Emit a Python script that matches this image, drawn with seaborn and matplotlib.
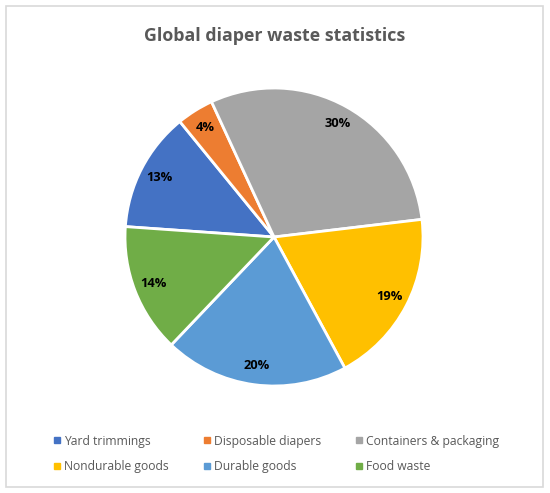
import matplotlib
matplotlib.use("Agg")
import matplotlib.pyplot as plt
from matplotlib.patches import Rectangle
from matplotlib.lines import Line2D
import seaborn as sns

# data
categories = ["Yard trimmings", "Disposable diapers", "Containers & packaging",
              "Nondurable goods", "Durable goods", "Food waste"]
shares = [13, 4, 30, 19, 20, 14]
colors = ["#4472C4", "#ED7D31", "#A5A5A5", "#FFC000", "#5B9BD5", "#70AD47"]

sns.set_theme(style="white")
plt.rcParams["font.family"] = ["Open Sans", "DejaVu Sans"]

fig = plt.figure(figsize=(5.5, 4.93), dpi=100)
fig.patch.set_facecolor("white")

# chart border
fig.add_artist(Rectangle((6 / 550, 6 / 493), 537 / 550, 481 / 493,
                         transform=fig.transFigure, fill=False,
                         edgecolor="#D9D9D9", linewidth=1.2))

ax = fig.add_axes([0.2273, 0.217, 0.5418, 0.6045])
wedges, texts, autotexts = ax.pie(
    shares, colors=colors, startangle=176, counterclock=False,
    autopct="%1.0f%%", pctdistance=0.87,
    wedgeprops=dict(edgecolor="white", linewidth=2),
    textprops=dict(fontsize=9.3, fontweight="bold", color="black"))
ax.set_aspect("equal")
ax.set_xlim(-1, 1)
ax.set_ylim(-1, 1)

fig.text(0.5, 0.927, "Global diaper waste statistics", ha="center", va="center",
         fontsize=12.8, fontweight="bold", color="#595959")

# legend filled row by row like the original
handles = [Line2D([], [], marker="s", linestyle="", markersize=4.5,
                  markerfacecolor=c, markeredgecolor=c) for c in colors]
order = [0, 3, 1, 4, 2, 5]
fig.legend([handles[i] for i in order], [categories[i] for i in order],
           ncol=3, loc="center", bbox_to_anchor=(0.5, 0.079),
           frameon=False, fontsize=8.7, labelcolor="#595959",
           handletextpad=0.1, columnspacing=2.6, labelspacing=1.05,
           handlelength=1.0)

fig.savefig("out.png", dpi=100)
